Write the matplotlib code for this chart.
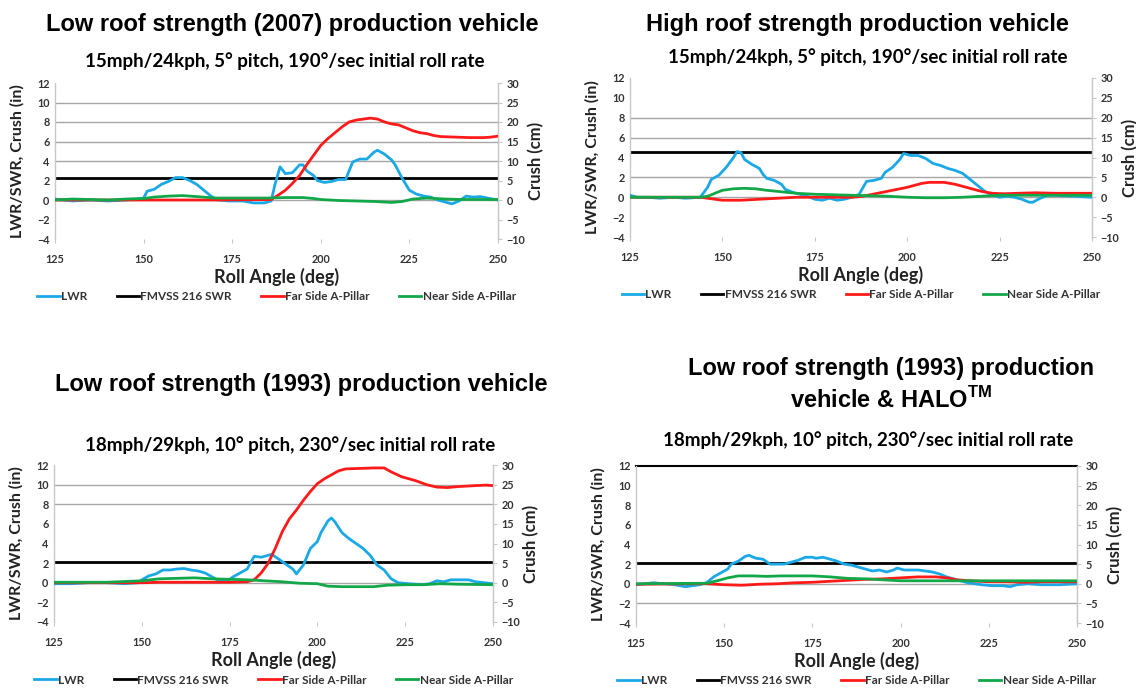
import matplotlib
matplotlib.use("Agg")
import matplotlib.pyplot as plt

W, H = 1136, 690

# ---- data (inches; right axis is the same crush in cm) ----
series_names = ["LWR", "FMVSS 216 SWR", "Far Side A-Pillar", "Near Side A-Pillar"]
colors = ["#1aa9e6", "#000000", "#ff1a1a", "#12a84a"]

# panel 1: low roof strength (2007)
p1_lwr_deg = [125, 127, 130, 135, 140, 145, 148, 150, 151, 153, 155, 157, 159, 161, 163, 165, 167, 169, 171,
              174, 178, 181, 184, 186, 187, 188.5, 190, 192, 194, 195, 196, 198, 199, 201, 203, 205, 207, 209,
              211, 213, 215, 216, 218, 220, 221, 223, 225, 227, 229, 231, 233, 235, 237, 239, 241, 243, 245,
              247, 250]
p1_lwr = [0.1, 0.0, -0.1, 0.0, -0.1, 0.0, 0.1, 0.2, 0.9, 1.1, 1.6, 1.9, 2.3, 2.3, 2.0, 1.6, 1.0, 0.4, 0.0,
          -0.1, -0.1, -0.3, -0.3, -0.1, 1.5, 3.4, 2.7, 2.8, 3.6, 3.6, 3.0, 2.5, 2.0, 1.8, 1.9, 2.1, 2.1, 3.9,
          4.2, 4.2, 4.9, 5.1, 4.7, 4.1, 3.6, 2.2, 1.0, 0.6, 0.4, 0.3, 0.0, -0.2, -0.4, -0.1, 0.4, 0.3, 0.35,
          0.2, 0.0]
p1_swr = 2.25
p1_far_deg = [125, 150, 170, 186, 188, 190, 192, 194, 196, 198, 200, 202, 204, 206, 208, 210, 212, 214, 216,
              218, 220, 222, 224, 226, 228, 230, 232, 234, 238, 242, 246, 248, 250]
p1_far = [0.0, 0.0, 0.0, 0.05, 0.5, 1.0, 1.7, 2.5, 3.6, 4.6, 5.6, 6.3, 6.9, 7.5, 8.0, 8.2, 8.3, 8.4, 8.3,
          8.0, 7.8, 7.7, 7.4, 7.1, 6.9, 6.8, 6.6, 6.5, 6.45, 6.4, 6.4, 6.45, 6.55]
p1_near_deg = [125, 130, 135, 140, 145, 150, 153, 157, 161, 165, 170, 175, 180, 185, 190, 195, 198, 200, 205,
               210, 215, 220, 223, 226, 230, 235, 240, 250]
p1_near = [0.0, 0.1, 0.05, 0.0, 0.1, 0.15, 0.3, 0.4, 0.45, 0.35, 0.2, 0.2, 0.2, 0.2, 0.25, 0.25, 0.15, 0.05,
           -0.05, -0.1, -0.15, -0.25, -0.15, 0.1, 0.2, 0.1, 0.05, 0.05]

# panel 2: high roof strength
p2_lwr_deg = [125, 127, 130, 133, 137, 140, 144, 145, 146, 147, 149, 151, 153, 154, 155, 156, 158, 160, 161,
              162, 164, 166, 167, 169, 171, 173, 175, 177, 179, 181, 183, 185, 187, 189, 191, 193, 194, 196,
              198, 199, 201, 203, 205, 207, 209, 211, 213, 215, 217, 219, 221, 223, 225, 227, 229, 231, 233,
              234, 236, 238, 240, 245, 250]
p2_lwr = [0.2, 0.0, 0.0, -0.1, 0.0, -0.1, 0.0, 0.5, 1.0, 1.8, 2.2, 3.0, 4.0, 4.6, 4.5, 3.8, 3.3, 2.9, 2.3,
          1.9, 1.7, 1.3, 0.8, 0.5, 0.3, 0.1, -0.2, -0.3, -0.1, -0.3, -0.2, 0.0, 0.3, 1.6, 1.7, 1.9, 2.5, 3.0,
          3.8, 4.4, 4.2, 4.2, 3.9, 3.4, 3.2, 2.9, 2.7, 2.4, 1.8, 1.2, 0.6, 0.2, 0.0, 0.1, 0.0, -0.2, -0.5,
          -0.5, -0.1, 0.2, 0.2, 0.1, 0.0]
p2_swr = 4.6
p2_far_deg = [125, 144, 146, 148, 150, 155, 160, 165, 170, 175, 180, 185, 188, 192, 196, 200, 204, 206, 210,
              213, 216, 220, 223, 226, 230, 235, 240, 245, 250]
p2_far = [0.0, 0.0, -0.1, -0.2, -0.3, -0.3, -0.2, -0.1, 0.0, 0.0, 0.0, 0.0, 0.1, 0.4, 0.7, 1.0, 1.4, 1.5,
          1.5, 1.3, 1.0, 0.6, 0.4, 0.35, 0.4, 0.45, 0.4, 0.4, 0.4]
p2_near_deg = [125, 144, 146, 148, 150, 153, 156, 159, 162, 166, 170, 175, 180, 185, 190, 195, 200, 205, 210,
               215, 220, 225, 230, 240, 250]
p2_near = [0.0, 0.0, 0.1, 0.4, 0.7, 0.85, 0.9, 0.85, 0.7, 0.55, 0.4, 0.3, 0.25, 0.2, 0.15, 0.1, 0.0, -0.05,
           -0.05, 0.0, 0.1, 0.2, 0.2, 0.2, 0.2]

# panel 3: low roof strength (1993)
p3_lwr_deg = [125, 130, 135, 140, 145, 149, 150, 152, 154, 156, 158, 160, 162, 164, 166, 168, 170, 172, 174,
              176, 178, 180, 182, 184, 186, 187, 189, 191, 193, 194, 196, 198, 200, 201, 203, 204, 205, 207,
              209, 211, 213, 215, 217, 219, 221, 223, 226, 230, 232, 234, 236, 238, 240, 243, 245, 250]
p3_lwr = [-0.1, -0.1, 0.0, 0.0, -0.1, 0.0, 0.3, 0.7, 0.9, 1.3, 1.3, 1.4, 1.45, 1.3, 1.2, 1.0, 0.6, 0.2, 0.1,
          0.6, 1.0, 1.4, 2.7, 2.6, 2.8, 2.9, 2.4, 1.9, 1.4, 0.9, 1.8, 3.5, 4.2, 5.1, 6.3, 6.6, 6.2, 5.1,
          4.5, 4.0, 3.5, 2.8, 1.8, 1.3, 0.4, 0.0, -0.1, -0.2, -0.1, 0.2, 0.1, 0.3, 0.3, 0.3, 0.1, -0.1]
p3_swr = 2.1
p3_far_deg = [125, 150, 155, 165, 175, 180, 182, 184, 186, 188, 190, 192, 194, 196, 198, 200, 202, 204, 206,
              208, 212, 216, 219, 221, 224, 228, 231, 234, 237, 240, 245, 248, 250]
p3_far = [0.0, 0.0, 0.05, 0.05, 0.05, 0.1, 0.3, 1.0, 2.0, 3.5, 5.2, 6.5, 7.4, 8.4, 9.3, 10.1, 10.6, 11.0,
          11.4, 11.6, 11.65, 11.7, 11.7, 11.3, 10.8, 10.4, 10.0, 9.75, 9.7, 9.8, 9.9, 9.95, 9.9]
p3_near_deg = [125, 140, 150, 155, 160, 165, 170, 175, 180, 185, 190, 195, 200, 203, 207, 212, 216, 220, 225,
               230, 235, 240, 250]
p3_near = [0.05, 0.05, 0.2, 0.4, 0.45, 0.5, 0.4, 0.35, 0.3, 0.2, 0.1, -0.05, -0.1, -0.35, -0.4, -0.4, -0.4,
           -0.25, -0.2, -0.2, -0.1, -0.15, -0.2]

# panel 4: low roof strength (1993) & HALO
p4_lwr_deg = [125, 130, 133, 136, 139, 141, 143, 145, 147, 149, 151, 152, 154, 156, 157, 159, 161, 163, 165,
              167, 169, 171, 173, 175, 176, 178, 180, 182, 184, 186, 188, 190, 192, 194, 196, 198, 199, 201,
              203, 205, 207, 209, 211, 213, 215, 217, 219, 221, 223, 226, 229, 231, 233, 236, 240, 245, 250]
p4_lwr = [-0.1, 0.1, 0.0, -0.1, -0.3, -0.2, -0.1, 0.1, 0.7, 1.1, 1.5, 2.0, 2.3, 2.8, 2.9, 2.6, 2.5, 2.0, 2.0,
          2.0, 2.2, 2.4, 2.7, 2.7, 2.6, 2.7, 2.5, 2.3, 2.0, 1.9, 1.7, 1.5, 1.3, 1.4, 1.2, 1.4, 1.6, 1.4,
          1.4, 1.4, 1.3, 1.2, 1.0, 0.7, 0.5, 0.3, 0.1, 0.0, -0.1, -0.2, -0.2, -0.3, -0.1, 0.0, -0.1, -0.1, 0.0]
p4_swr = 2.1
p4_far_deg = [125, 140, 145, 150, 155, 160, 165, 170, 175, 180, 185, 190, 195, 200, 205, 210, 213, 216, 220,
              225, 230, 235, 240, 245, 250]
p4_far = [-0.05, 0.0, 0.0, -0.1, -0.15, -0.05, 0.0, 0.1, 0.15, 0.25, 0.35, 0.45, 0.5, 0.6, 0.7, 0.7, 0.6,
          0.4, 0.3, 0.2, 0.2, 0.15, 0.2, 0.2, 0.2]
p4_near_deg = [125, 145, 148, 151, 154, 158, 162, 166, 170, 175, 180, 185, 190, 195, 200, 205, 210, 220, 230,
               240, 250]
p4_near = [0.0, 0.05, 0.3, 0.6, 0.8, 0.8, 0.75, 0.8, 0.8, 0.8, 0.7, 0.55, 0.5, 0.4, 0.3, 0.3, 0.3, 0.3, 0.3,
           0.3, 0.3]

x_ticks = [125, 150, 175, 200, 225, 250]
y_ticks = [-4, -2, 0, 2, 4, 6, 8, 10, 12]
cm_ticks = [-10, -5, 0, 5, 10, 15, 20, 25, 30]

TITLE_FONT = ["Liberation Sans", "DejaVu Sans"]
BODY_FONT = ["Lato", "DejaVu Sans"]


def fx(px):
    return px / W


def fy(py):
    return 1 - py / H


def panel(fig, box, data, swr, grid_levels, black_top, texts):
    l, r, t, b = box
    ax = fig.add_axes([fx(l), fy(b), fx(r - l), (b - t) / H])
    ax.set_xlim(125, 250)
    ax.set_ylim(-4, 12)
    for g in grid_levels:
        ax.axhline(g, color="#a6a6a6", lw=1.0, zorder=1)
    if black_top:
        ax.axhline(12, color="black", lw=1.5, zorder=1, clip_on=False)
    lines = []
    (deg_l, lwr), (deg_f, far), (deg_n, near) = data
    lines.append(ax.plot(deg_l, lwr, color=colors[0], lw=2.0, zorder=3)[0])
    lines.append(ax.axhline(swr, color=colors[1], lw=2.0, zorder=2))
    lines.append(ax.plot(deg_f, far, color=colors[2], lw=2.0, zorder=4)[0])
    lines.append(ax.plot(deg_n, near, color=colors[3], lw=2.0, zorder=5)[0])

    for s in ["top", "bottom"]:
        ax.spines[s].set_visible(False)
    for s in ["left", "right"]:
        ax.spines[s].set_color("#c8c8c8")
        ax.spines[s].set_linewidth(1.0)
    ax.set_xticks(x_ticks)
    ax.set_yticks(y_ticks)
    ax.tick_params(axis="x", length=3, color="#c8c8c8", labelsize=7.8, pad=8, labelcolor="#333333")
    ax.tick_params(axis="y", length=0, labelsize=7.8, pad=4, labelcolor="#333333")
    for lab in ax.get_xticklabels() + ax.get_yticklabels():
        lab.set_fontweight("bold")
        lab.set_family(BODY_FONT)

    ax2 = ax.twinx()
    ax2.set_ylim(-10, 30)
    ax2.set_yticks(cm_ticks)
    for s in ["top", "bottom", "left"]:
        ax2.spines[s].set_visible(False)
    ax2.spines["right"].set_color("#c8c8c8")
    ax2.tick_params(axis="y", length=3, color="#c8c8c8", labelsize=7.8, pad=3, labelcolor="#333333")
    for lab in ax2.get_yticklabels():
        lab.set_fontweight("bold")
        lab.set_family(BODY_FONT)

    cx = (l + r) / 2
    for txt, x, y, size, fam in texts:
        fig.text(fx(x), fy(y), txt, ha="center", va="center", fontsize=size,
                 fontweight="bold", family=fam)
    fig.text(fx(cx), fy(b + 38), "Roll Angle (deg)", ha="center", va="center",
             fontsize=13, fontweight="bold", family=BODY_FONT, color="#222222")
    fig.text(fx(l - 38), fy((t + b) / 2), "LWR/SWR, Crush (in)", ha="center", va="center",
             rotation=90, fontsize=11.5, fontweight="bold", family=BODY_FONT, color="#222222")
    fig.text(fx(r + 38), fy((t + b) / 2), "Crush (cm)", ha="center", va="center",
             rotation=90, fontsize=12, fontweight="bold", family=BODY_FONT, color="#222222")
    leg = fig.legend(lines, series_names, loc="center", ncol=4,
                     bbox_to_anchor=(fx(cx), fy(b + 58)), frameon=False,
                     handlelength=1.9, handletextpad=0.1, columnspacing=2.5,
                     prop={"family": BODY_FONT, "size": 8.5, "weight": "bold"})
    for tx in leg.get_texts():
        tx.set_color("#333333")
    return ax


fig = plt.figure(figsize=(W / 100, H / 100), dpi=100)

panel(fig, (55, 498, 83, 239),
      [(p1_lwr_deg, p1_lwr), (p1_far_deg, p1_far), (p1_near_deg, p1_near)], p1_swr,
      [0, 4, 6, 8, 10], False,
      [("Low roof strength (2007) production vehicle", 292, 25, 17, TITLE_FONT),
       ("15mph/24kph, 5° pitch, 190°/sec initial roll rate", 285, 61, 13.5, BODY_FONT)])

panel(fig, (630, 1092, 78, 237),
      [(p2_lwr_deg, p2_lwr), (p2_far_deg, p2_far), (p2_near_deg, p2_near)], p2_swr,
      [0, 2, 6, 8], False,
      [("High roof strength production vehicle", 857, 25, 17, TITLE_FONT),
       ("15mph/24kph, 5° pitch, 190°/sec initial roll rate", 868, 57, 13.5, BODY_FONT)])

panel(fig, (54, 493, 465, 622),
      [(p3_lwr_deg, p3_lwr), (p3_far_deg, p3_far), (p3_near_deg, p3_near)], p3_swr,
      [0, 8, 10], False,
      [("Low roof strength (1993) production vehicle", 301, 385, 17, TITLE_FONT),
       ("18mph/29kph, 10° pitch, 230°/sec initial roll rate", 290, 445, 13.5, BODY_FONT)])

panel(fig, (636, 1077, 466, 623),
      [(p4_lwr_deg, p4_lwr), (p4_far_deg, p4_far), (p4_near_deg, p4_near)], p4_swr,
      [0, -2], True,
      [("Low roof strength (1993) production", 891, 369, 17, TITLE_FONT),
       ("vehicle & HALO$^{\\mathregular{TM}}$", 891, 400, 17, TITLE_FONT),
       ("18mph/29kph, 10° pitch, 230°/sec initial roll rate", 868, 440, 13.5, BODY_FONT)])

fig.savefig("out.png", dpi=100)
